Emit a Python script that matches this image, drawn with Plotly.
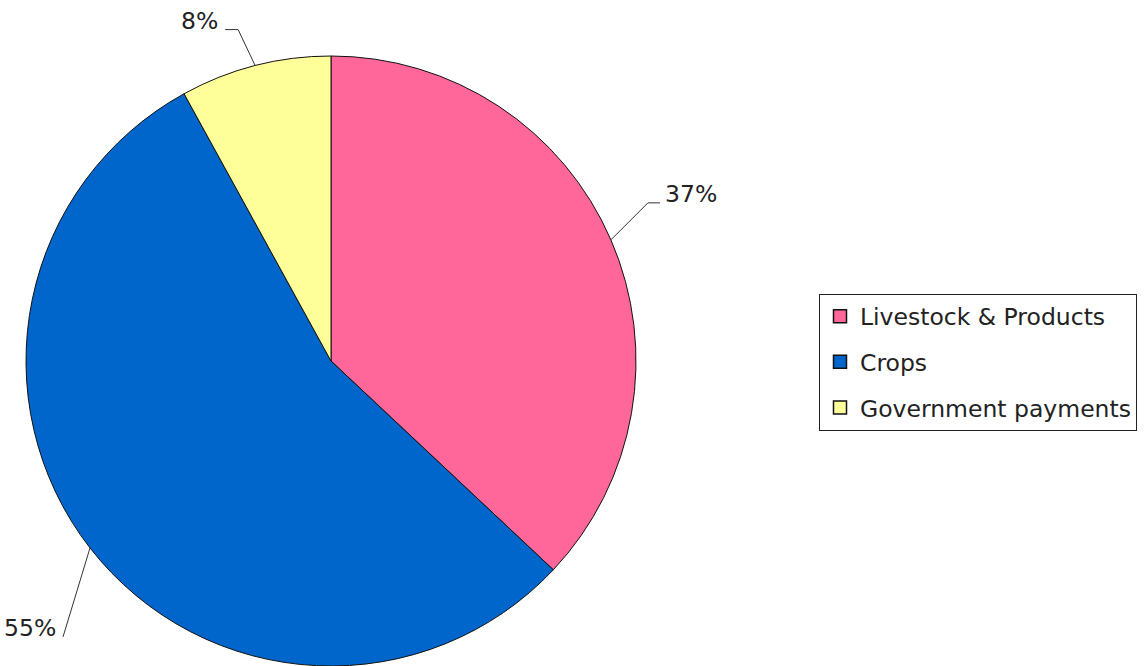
import math
import plotly.graph_objects as go

# ---- data ----
labels = ["Livestock & Products", "Crops", "Government payments"]
values = [37, 55, 8]
text_labels = ["37%", "55%", "8%"]
colors = ["#FF6699", "#0066CC", "#FFFF99"]

# ---- layout constants (pixels) ----
W, H = 1144, 666
pie_x0, pie_x1 = 0, 662         # domain in px (x)
pie_top = 56                    # domain top in px (y from top)
FONT = "DejaVu Sans, Verdana, sans-serif"
FS = 23.5

# leader line styling per slice: (dx, dy, horizontal tail, text side)
leader = [
    (37, -37, 12, "left"),
    (-27, 89, 0, "right"),
    (-17, -36, -13, "right"),
]

fig = go.Figure(go.Pie(
    labels=labels,
    values=values,
    sort=False,
    direction="clockwise",
    rotation=0,
    textinfo="none",
    showlegend=False,
    marker=dict(colors=colors, line=dict(color="#111111", width=1)),
    domain=dict(x=[pie_x0 / W, pie_x1 / W], y=[0, 1 - pie_top / H]),
    hoverinfo="label+percent",
))

# legend entries (one group per category so spacing can be controlled)
for lab, col in zip(labels, colors):
    fig.add_trace(go.Scatter(
        x=[None], y=[None], mode="markers", name=lab, legendgroup=lab,
        marker=dict(symbol="square", size=13, color=col,
                    line=dict(color="#111111", width=1.5)),
        hoverinfo="skip",
    ))

# geometry of the pie in pixels
dom_h = H - pie_top
R = min(pie_x1 - pie_x0, dom_h) / 2
cx = (pie_x0 + pie_x1) / 2
cy = pie_top + dom_h / 2

def px2paper(x, y):
    return x / W, 1 - y / H

shapes, annotations = [], []
total = sum(values)
cum = 0
for v, t, (dx, dy, hx, side) in zip(values, text_labels, leader):
    theta = 2 * math.pi * (cum + v / 2) / total
    cum += v
    ax_, ay_ = cx + R * math.sin(theta), cy - R * math.cos(theta)
    ex, ey = ax_ + dx, ay_ + dy
    tx, ty = ex + hx, ey
    for (x0, y0, x1, y1) in [(ax_, ay_, ex, ey), (ex, ey, tx, ty)]:
        if (x0, y0) == (x1, y1):
            continue
        p0, p1 = px2paper(x0, y0), px2paper(x1, y1)
        shapes.append(dict(type="line", xref="paper", yref="paper",
                           x0=p0[0], y0=p0[1], x1=p1[0], y1=p1[1],
                           line=dict(color="#333333", width=1)))
    gap = 3 if side == "left" else -5
    pt = px2paper(tx + gap, ty - 9)
    annotations.append(dict(x=pt[0], y=pt[1], xref="paper", yref="paper",
                            text=t, showarrow=False,
                            xanchor="left" if side == "left" else "right",
                            yanchor="middle",
                            font=dict(family=FONT, size=FS, color="#222222")))

fig.update_layout(
    width=W, height=H,
    margin=dict(l=0, r=0, t=0, b=0, autoexpand=False),
    paper_bgcolor="white",
    plot_bgcolor="white",
    font=dict(family=FONT, size=FS, color="#222222"),
    showlegend=True,
    xaxis=dict(visible=False),
    yaxis=dict(visible=False),
    legend=dict(x=819 / W, xanchor="left", y=1 - 362 / H, yanchor="middle",
                bordercolor="#222222", borderwidth=1, bgcolor="white",
                tracegroupgap=12,
                font=dict(family=FONT, size=FS, color="#222222")),
    shapes=shapes,
    annotations=annotations,
)

fig.write_html("out.html",
               config={"displayModeBar": False},
               post_script="document.body.style.margin='0';document.body.style.overflow='hidden';")
